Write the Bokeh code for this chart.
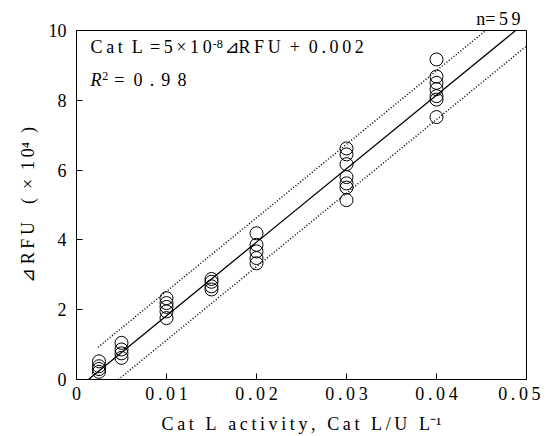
from bokeh.plotting import figure
from bokeh.models import Label, FixedTicker, ColumnDataSource
from bokeh.embed import file_html
from bokeh.resources import INLINE

# ---- data ----
x_0025 = [0.0025] * 4
y_0025 = [0.52, 0.38, 0.30, 0.22]
x_005 = [0.005] * 4
y_005 = [1.05, 0.86, 0.75, 0.62]
x_010 = [0.01] * 5
y_010 = [2.33, 2.19, 2.08, 1.95, 1.76]
x_015 = [0.015] * 4
y_015 = [2.88, 2.80, 2.67, 2.58]
x_020 = [0.02] * 5
y_020 = [4.19, 3.86, 3.67, 3.48, 3.33]
x_030 = [0.03] * 7
y_030 = [6.62, 6.45, 6.17, 5.80, 5.62, 5.50, 5.14]
x_040 = [0.04] * 7
y_040 = [9.17, 8.68, 8.50, 8.32, 8.12, 8.02, 7.52]

fit_slope = 210.7
fit_x0 = 0.00133          # x where fit line crosses y = 0
band_offset = 0.70        # half width of prediction band (x10^4)
line_x_range = [0.0, 0.05]
upper_x_start = 0.0024

x_ticks = [0, 0.01, 0.02, 0.03, 0.04, 0.05]
x_tick_labels = ["0", "0.01", "0.02", "0.03", "0.04", "0.05"]
y_ticks = [0, 2, 4, 6, 8, 10]
y_tick_labels = ["0", "2", "4", "6", "8", "10"]

FONT = "Liberation Serif"
SYM = "DejaVu Sans"
SP = "\u2009"
EN = "\u2002"
W, H = 540, 436

def spaced(s, gap=SP):
    # thin space between letters of each word, en space between words
    return EN.join(gap.join(list(w)) for w in s.split(" "))

p = figure(width=W, height=H, x_range=(0, 0.05), y_range=(0, 10),
           output_backend="svg", toolbar_location=None,
           min_border_left=76, min_border_right=14, min_border_top=30,
           min_border_bottom=56, title="n=" + SP + spaced("59"))
p.title.align = "right"
p.title.text_font = FONT
p.title.text_font_size = "18px"
p.title.text_font_style = "normal"
p.title.text_color = "black"
p.title.offset = 6
p.title.standoff = 4

p.grid.visible = False
p.outline_line_color = "black"
p.outline_line_width = 1
p.background_fill_color = "white"

for ax in (p.xaxis[0], p.yaxis[0]):
    ax.major_tick_in = 6
    ax.major_tick_out = 0
    ax.minor_tick_line_color = None
    ax.axis_line_color = "black"
    ax.major_label_text_font = FONT
    ax.major_label_text_font_size = "18px"
    ax.major_label_text_color = "black"
    ax.axis_label_text_font = FONT
    ax.axis_label_text_font_size = "18px"
    ax.axis_label_text_font_style = "normal"
    ax.axis_label_text_color = "black"

p.xaxis.ticker = FixedTicker(ticks=x_ticks)
p.xaxis.major_label_overrides = {t: spaced(l) for t, l in zip(x_ticks, x_tick_labels)}
p.yaxis.ticker = FixedTicker(ticks=y_ticks)
p.yaxis.major_label_overrides = {t: l for t, l in zip(y_ticks, y_tick_labels)}
p.xaxis.major_label_standoff = 4
p.yaxis.major_label_standoff = 10
p.xaxis.axis_label = SP.join("Cat L activity, Cat L/U L") + "\u207b\u00b9"
p.xaxis.axis_label_standoff = 7
p.yaxis.axis_label = ("\u22bf" + SP + spaced("RFU") + EN + EN + "(" + EN + "\u00d7" + EN
                      + spaced("10") + "\u2074" + EN + ")")
p.yaxis.axis_label_standoff = 8

# regression and band lines
def fit(x, off=0.0):
    return [fit_slope * (xi - fit_x0) + off for xi in x]

p.line(line_x_range, fit(line_x_range), line_color="black", line_width=1.3)
ux = [upper_x_start, line_x_range[1]]
p.line(ux, fit(ux, band_offset), line_color="black", line_width=1.5, line_dash="1 2")
p.line(line_x_range, fit(line_x_range, -band_offset), line_color="black",
       line_width=1.5, line_dash="1 2")

xs = x_0025 + x_005 + x_010 + x_015 + x_020 + x_030 + x_040
ys = y_0025 + y_005 + y_010 + y_015 + y_020 + y_030 + y_040
src = ColumnDataSource(dict(x=xs, y=ys))
p.scatter("x", "y", source=src, size=13, marker="circle", line_color="black",
          fill_color="white", fill_alpha=0.0, line_width=1)

def lab(x, y, text, size="18px", font=FONT, style="normal", **kw):
    p.add_layout(Label(x=x, y=y, text=text, text_font=font, text_font_size=size,
                       text_font_style=style, text_color="black", **kw))

# equation
lab(0.00156, 9.24, spaced("Cat") + EN + "L" + SP + SP + spaced("=5\u00d710"))
lab(0.01515, 9.50, "-8", size="12px")
lab(0.01645, 9.24, "\u22bf", font=SYM)
lab(0.01800, 9.24, spaced("RFU") + EN + "+" + EN + spaced("0.002"))
# R^2
lab(0.00156, 8.29, "R", style="italic")
lab(0.00285, 8.57, "2", size="12px")
lab(0.00420, 8.29, "=" + EN + spaced("0.98", SP + SP))

open("out.html", "w").write(file_html(p, INLINE))
